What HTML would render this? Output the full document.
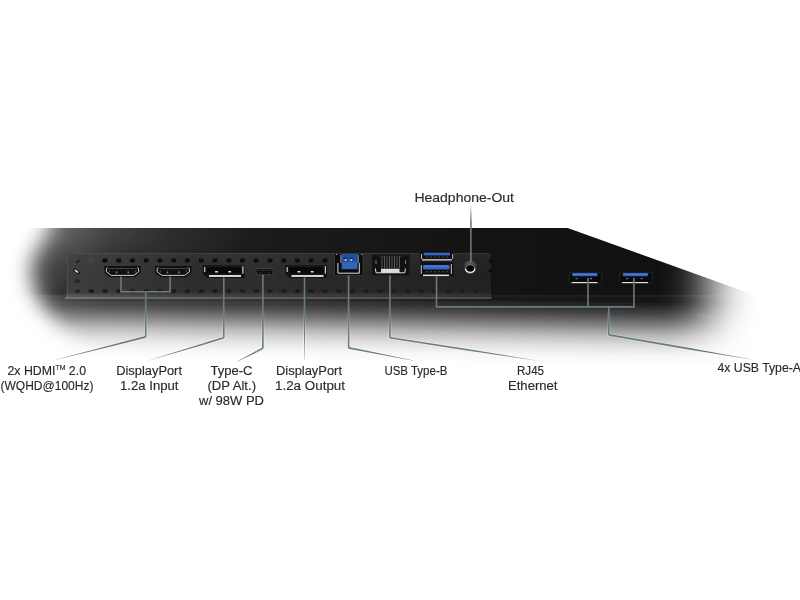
<!DOCTYPE html>
<html><head><meta charset="utf-8">
<style>
html,body{margin:0;padding:0;background:#fff;width:800px;height:600px;overflow:hidden}
svg{display:block}
text{font-family:"Liberation Sans",sans-serif;font-size:12.5px;fill:#2a2a2a;stroke:#2a2a2a;stroke-width:0.15px}
</style></head><body>
<svg width="800" height="600" viewBox="0 0 800 600">
<defs>
  <filter id="fb" x="-100" y="0" width="1000" height="600" filterUnits="userSpaceOnUse">
    <feGaussianBlur stdDeviation="10 10"/>
  </filter>
  <filter id="b05" x="-50%" y="-50%" width="200%" height="200%"><feGaussianBlur stdDeviation="0.6"/></filter>
  <clipPath id="bodyClip"><polygon points="-100,227.8 567,227.8 900,347.2 900,600 -100,600"/></clipPath>
  <radialGradient id="lightG" cx="0" cy="0" r="1" gradientUnits="userSpaceOnUse" gradientTransform="translate(30,228) scale(230,62)">
    <stop offset="0" stop-color="#fff" stop-opacity="0.3"/>
    <stop offset="0.3" stop-color="#fff" stop-opacity="0.17"/>
    <stop offset="0.6" stop-color="#fff" stop-opacity="0.07"/>
    <stop offset="1" stop-color="#fff" stop-opacity="0"/>
  </radialGradient>
  <filter id="fb2" x="-100" y="0" width="1000" height="600" filterUnits="userSpaceOnUse">
    <feGaussianBlur stdDeviation="23 23"/>
  </filter>
  <linearGradient id="botG" x1="250" y1="296" x2="249.09" y2="360" gradientUnits="userSpaceOnUse">
    <stop offset="0" stop-color="#fff"/>
    <stop offset="0.0625" stop-color="#ebebeb"/>
    <stop offset="0.219" stop-color="#c0c0c0"/>
    <stop offset="0.375" stop-color="#878787"/>
    <stop offset="0.531" stop-color="#4d4d4d"/>
    <stop offset="0.6875" stop-color="#242424"/>
    <stop offset="0.84" stop-color="#0b0b0b"/>
    <stop offset="1" stop-color="#000"/>
  </linearGradient>
  <mask id="mBR" maskUnits="userSpaceOnUse" x="-100" y="0" width="1000" height="600">
    <rect x="-100" y="0" width="1000" height="600" fill="url(#botG)"/>
  </mask>
  <mask id="mL" maskUnits="userSpaceOnUse" x="-100" y="0" width="1000" height="600">
    <path d="M50,100 L49,232 Q33,248 30,272 Q34,300 60,330 L120,400 H900 V100 Z" fill="#fff" filter="url(#fb)"/>
  </mask>
  <mask id="mR" maskUnits="userSpaceOnUse" x="-100" y="0" width="1000" height="600">
    <polygon points="-100,100 710,100 710,290 695,420 -100,420" fill="#fff" filter="url(#fb2)"/>
  </mask>
  <linearGradient id="bodyG" x1="150" y1="0" x2="700" y2="0" gradientUnits="userSpaceOnUse">
    <stop offset="0" stop-color="#202020"/>
    <stop offset="0.55" stop-color="#141414"/>
    <stop offset="1" stop-color="#101010"/>
  </linearGradient>
  <linearGradient id="panelG" x1="0" y1="253" x2="0" y2="298" gradientUnits="userSpaceOnUse">
    <stop offset="0" stop-color="#303030"/>
    <stop offset="0.5" stop-color="#2a2a2a"/>
    <stop offset="0.85" stop-color="#2c2c2c"/>
    <stop offset="1" stop-color="#3a3a3a"/>
  </linearGradient>
  <radialGradient id="jackG" cx="0.5" cy="0.5" r="0.5">
    <stop offset="0.5" stop-color="#0a0a0a"/>
    <stop offset="0.62" stop-color="#262626"/>
    <stop offset="0.8" stop-color="#555"/>
    <stop offset="0.93" stop-color="#383838"/>
    <stop offset="1" stop-color="#2a2a2a"/>
  </radialGradient>
  <linearGradient id="panelShade" x1="67" y1="0" x2="491" y2="0" gradientUnits="userSpaceOnUse">
    <stop offset="0" stop-color="#fff" stop-opacity="0.09"/>
    <stop offset="0.3" stop-color="#fff" stop-opacity="0.01"/>
    <stop offset="0.6" stop-color="#000" stop-opacity="0.05"/>
    <stop offset="1" stop-color="#000" stop-opacity="0.22"/>
  </linearGradient>
  <linearGradient id="haloG" x1="0" y1="305" x2="0" y2="340" gradientUnits="userSpaceOnUse">
    <stop offset="0" stop-color="#fff" stop-opacity="0"/>
    <stop offset="1" stop-color="#fff" stop-opacity="0.4"/>
  </linearGradient>
  <linearGradient id="lightV" x1="0" y1="285" x2="0" y2="325" gradientUnits="userSpaceOnUse">
    <stop offset="0" stop-color="#fff"/>
    <stop offset="1" stop-color="#000"/>
  </linearGradient>
  <mask id="mLight" maskUnits="userSpaceOnUse" x="-100" y="0" width="1000" height="600">
    <rect x="-100" y="0" width="1000" height="600" fill="url(#lightV)"/>
  </mask>
  <radialGradient id="jackTop" cx="0.5" cy="0.25" r="0.75">
    <stop offset="0" stop-color="#606060"/>
    <stop offset="0.55" stop-color="#3a3a3a"/>
    <stop offset="1" stop-color="#1c1c1c"/>
  </radialGradient>
  <linearGradient id="lightL" x1="30" y1="0" x2="115" y2="0" gradientUnits="userSpaceOnUse">
    <stop offset="0" stop-color="#fff" stop-opacity="0.2"/>
    <stop offset="0.45" stop-color="#fff" stop-opacity="0.08"/>
    <stop offset="1" stop-color="#fff" stop-opacity="0"/>
  </linearGradient>
</defs>

<!-- monitor body -->
<g mask="url(#mR)"><g mask="url(#mL)"><g mask="url(#mBR)"><g clip-path="url(#bodyClip)">
  <rect x="-100" y="228" width="1000" height="372" fill="url(#bodyG)"/>
  <rect x="-100" y="228" width="1000" height="372" fill="url(#lightG)" mask="url(#mLight)"/>
  <rect x="-100" y="228" width="1000" height="372" fill="url(#lightL)" mask="url(#mLight)"/>
  <!-- bezel bottom edge line -->
  <rect x="0" y="295.3" width="800" height="1.2" fill="#fff" fill-opacity="0.09"/>
  <rect x="0" y="296.2" width="800" height="8" fill="#fff" fill-opacity="0.025"/>
  <rect x="672" y="313.5" width="18" height="4.5" fill="#fff" fill-opacity="0.025"/>
  <rect x="697" y="313.5" width="19" height="5" fill="#fff" fill-opacity="0.05"/>
  <!-- port panel -->
  <path d="M71,253 H488 Q491,253 491,256 V299 H65 L66,295 L67,257 Q67,253 71,253 Z" fill="url(#panelG)"/>
  <path d="M71,253 H488 Q491,253 491,256 V299 H65 L66,295 L67,257 Q67,253 71,253 Z" fill="url(#panelShade)"/>
  <path d="M67.5,298 V257 Q67.5,253.5 71,253.5 H488" fill="none" stroke="#fff" stroke-opacity="0.07" stroke-width="1"/>
  <rect x="66" y="293.5" width="425" height="3.8" fill="#fff" fill-opacity="0.04"/>
  <rect x="65" y="297.3" width="427" height="1.6" fill="#fff" fill-opacity="0.17"/>
  <circle cx="490.8" cy="260.6" r="2.1" fill="#0e0e0e"/>
  <circle cx="490.5" cy="270.8" r="2.1" fill="#0e0e0e"/>
  <!-- dots -->
  <g fill="#1e1e1e" filter="url(#b05)">
    <ellipse cx="105" cy="260.5" rx="2.6" ry="2.3" fill="#111"/><ellipse cx="118.75" cy="260.5" rx="2.6" ry="2.3" fill="#111"/><ellipse cx="132.5" cy="260.5" rx="2.6" ry="2.3" fill="#111"/>
    <ellipse cx="146.25" cy="260.5" rx="2.6" ry="2.3" fill="#111"/><ellipse cx="160" cy="260.5" rx="2.6" ry="2.3" fill="#111"/><ellipse cx="173.75" cy="260.5" rx="2.6" ry="2.3" fill="#111"/>
    <ellipse cx="187.5" cy="260.5" rx="2.6" ry="2.3" fill="#111"/><ellipse cx="201.25" cy="260.5" rx="2.6" ry="2.3" fill="#111"/><ellipse cx="215" cy="260.5" rx="2.6" ry="2.3" fill="#111"/>
    <ellipse cx="228.75" cy="260.5" rx="2.6" ry="2.3" fill="#111"/><ellipse cx="242.5" cy="260.5" rx="2.6" ry="2.3" fill="#111"/><ellipse cx="256.25" cy="260.5" rx="2.6" ry="2.3" fill="#111"/>
    <ellipse cx="270" cy="260.5" rx="2.6" ry="2.3" fill="#111"/><ellipse cx="283.75" cy="260.5" rx="2.6" ry="2.3" fill="#111"/><ellipse cx="297.5" cy="260.5" rx="2.6" ry="2.3" fill="#111"/>
    <ellipse cx="311.25" cy="260.5" rx="2.6" ry="2.3" fill="#111"/><ellipse cx="325" cy="260.5" rx="2.6" ry="2.3" fill="#111"/>
    <ellipse cx="77.5" cy="281" rx="2.8" ry="2.1" fill="#282828"/>
    <ellipse cx="77.5" cy="291" rx="2.8" ry="2.1" fill="#262626"/><ellipse cx="91.25" cy="291" rx="2.8" ry="2.1"/><ellipse cx="105" cy="291" rx="2.8" ry="2.1"/>
    <ellipse cx="118.75" cy="291" rx="2.8" ry="2.1"/><ellipse cx="132.5" cy="291" rx="2.8" ry="2.1"/><ellipse cx="146.25" cy="291" rx="2.8" ry="2.1"/>
    <ellipse cx="160" cy="291" rx="2.8" ry="2.1"/><ellipse cx="173.75" cy="291" rx="2.8" ry="2.1"/><ellipse cx="187.5" cy="291" rx="2.8" ry="2.1"/>
    <ellipse cx="201.25" cy="291" rx="2.8" ry="2.1"/><ellipse cx="215" cy="291" rx="2.8" ry="2.1"/><ellipse cx="228.75" cy="291" rx="2.8" ry="2.1"/>
    <ellipse cx="242.5" cy="291" rx="2.8" ry="2.1"/><ellipse cx="256.25" cy="291" rx="2.8" ry="2.1"/><ellipse cx="270" cy="291" rx="2.8" ry="2.1"/>
    <ellipse cx="283.75" cy="291" rx="2.8" ry="2.1"/><ellipse cx="297.5" cy="291" rx="2.8" ry="2.1"/><ellipse cx="311.25" cy="291" rx="2.8" ry="2.1"/>
    <ellipse cx="325" cy="291" rx="2.8" ry="2.1"/><ellipse cx="338.75" cy="291" rx="2.8" ry="2.1"/><ellipse cx="352.5" cy="291" rx="2.8" ry="2.1"/>
    <ellipse cx="366.25" cy="291" rx="2.8" ry="2.1"/><ellipse cx="380" cy="291" rx="2.8" ry="2.1"/><ellipse cx="393.75" cy="291" rx="2.8" ry="2.1"/>
    <ellipse cx="407.5" cy="291" rx="2.8" ry="2.1"/><ellipse cx="421.25" cy="291" rx="2.8" ry="2.1"/><ellipse cx="435" cy="291" rx="2.8" ry="2.1"/>
    <ellipse cx="448.75" cy="291" rx="2.8" ry="2.1"/><ellipse cx="462.5" cy="291" rx="2.8" ry="2.1"/><ellipse cx="476.25" cy="291" rx="2.8" ry="2.1"/>
  </g>
</g></g></g></g>

<!-- PORTS -->
<g id="ports">
  <!-- panel marks -->
  <path d="M76.5,262.5 L79.5,260.5" stroke="#151515" stroke-width="1.4" stroke-linecap="round"/>
  <circle cx="91" cy="260.6" r="2.4" fill="#444" filter="url(#b05)"/>
  <path d="M74.8,270 L78.2,272.6" stroke="#111" stroke-width="3.2" stroke-linecap="round"/>
  <path d="M75.3,270.3 L77.6,272.1" stroke="#e6e6e6" stroke-width="1.5" stroke-linecap="round"/>
  <!-- HDMI 1 -->
  <g>
    <path d="M104.3,266 H140.7 V272.6 L135.4,277.2 H109.6 L104.3,272.6 Z" fill="#111"/>
    <path d="M108.5,268.6 H136.5" stroke="#555" stroke-width="0.8"/>
    <rect x="115.8" y="271.4" width="1.6" height="2" fill="#777"/>
    <rect x="127.4" y="271.4" width="1.6" height="2" fill="#777"/>
    <path d="M107.6,267.4 L106.4,268.8 V271.8 L111.2,275.4 H133.8 L138.6,271.8 V268.8 L137.4,267.4" fill="none" stroke="#e2e2e2" stroke-width="0.9"/>
    <path d="M108.8,270 L110.2,272.4 M136.2,270 L134.8,272.4" stroke="#666" stroke-width="0.7"/>
  </g>
  <g transform="translate(50.8,0)">
    <path d="M104.3,266 H140.7 V272.6 L135.4,277.2 H109.6 L104.3,272.6 Z" fill="#111"/>
    <path d="M108.5,268.6 H136.5" stroke="#555" stroke-width="0.8"/>
    <rect x="115.8" y="271.4" width="1.6" height="2" fill="#777"/>
    <rect x="127.4" y="271.4" width="1.6" height="2" fill="#777"/>
    <path d="M107.6,267.4 L106.4,268.8 V271.8 L111.2,275.4 H133.8 L138.6,271.8 V268.8 L137.4,267.4" fill="none" stroke="#e2e2e2" stroke-width="0.9"/>
    <path d="M108.8,270 L110.2,272.4 M136.2,270 L134.8,272.4" stroke="#666" stroke-width="0.7"/>
  </g>
  <!-- DP 1 -->
  <g>
    <path d="M202.7,265.3 H244.5 V278 H207.2 L202.7,273.8 Z" fill="#111"/>
    <path d="M206,266.6 H241.6 V274 H206 Z" fill="#080808" stroke="#2a2a2a" stroke-width="0.5"/>
    <rect x="209" y="275" width="32" height="2" fill="#d4d4d4"/>
    <rect x="204.1" y="267" width="1.2" height="5" fill="#c8c8c8"/>
    <rect x="242.3" y="266.2" width="1.2" height="7.4" fill="#d0d0d0"/>
    <rect x="215" y="271" width="3" height="1.6" rx="0.5" fill="#e0e0e0"/>
    <rect x="228.2" y="271" width="3" height="1.6" rx="0.5" fill="#e0e0e0"/>
  </g>
  <g transform="translate(82.5,0)">
    <path d="M202.7,265.3 H244.5 V278 H207.2 L202.7,273.8 Z" fill="#111"/>
    <path d="M206,266.6 H241.6 V274 H206 Z" fill="#080808" stroke="#2a2a2a" stroke-width="0.5"/>
    <rect x="209" y="275" width="32" height="2" fill="#d4d4d4"/>
    <rect x="204.1" y="267" width="1.2" height="5" fill="#c8c8c8"/>
    <rect x="242.3" y="266.2" width="1.2" height="7.4" fill="#d0d0d0"/>
    <rect x="215" y="271" width="3" height="1.6" rx="0.5" fill="#e0e0e0"/>
    <rect x="228.2" y="271" width="3" height="1.6" rx="0.5" fill="#e0e0e0"/>
  </g>
  <!-- Type-C -->
  <rect x="253.4" y="268.5" width="22.6" height="6.3" rx="3.1" fill="#101010" stroke="#4a4a4a" stroke-width="0.8"/>
  <path d="M256.4,269.6 Q254.8,271.6 256.4,273.7 M273,269.6 Q274.6,271.6 273,273.7" fill="none" stroke="#8a8a8a" stroke-width="0.7"/>
  <path d="M258,270.3 H271" stroke="#3a3a3a" stroke-width="0.6"/>
  <path d="M259.5,272.6 H260.8 M268.6,272.6 H269.9" stroke="#555" stroke-width="0.7"/>
  <!-- USB-B -->
  <rect x="334.6" y="253.8" width="28.4" height="21.8" fill="#0c0c0c" stroke="#3a3a3a" stroke-width="0.8"/>
  <rect x="341.6" y="254" width="15.9" height="15.2" fill="#3266b8"/>
  <rect x="341.6" y="254" width="15.9" height="8.2" fill="#1f50a2"/>
  <rect x="344.2" y="257.6" width="2.6" height="1.6" fill="#0d2250"/>
  <rect x="349.9" y="257.6" width="2.6" height="1.6" fill="#0d2250"/>
  <rect x="344.7" y="259.2" width="1.8" height="1.5" fill="#e8e8e8"/>
  <rect x="350.4" y="259.2" width="1.8" height="1.5" fill="#e8e8e8"/>
  <path d="M337.9,263 V273.2 H359.3 V263" fill="none" stroke="#e0e0e0" stroke-width="1"/>
  <path d="M340.9,255 V263 M358.2,255 V263" stroke="#bbb" stroke-width="0.8"/>
  <path d="M336,254.6 H337 M361.6,254.6 H362.6" stroke="#ccc" stroke-width="0.9"/>
  <!-- RJ45 -->
  <rect x="372" y="254.3" width="37.7" height="21.2" fill="#111" stroke="#262626" stroke-width="0.5"/>
  <path d="M379,256.2 H403" stroke="#3a3a3a" stroke-width="0.8"/>
  <g stroke="#7a7a7a" stroke-width="0.7">
    <path d="M382,256.5 V268.5 M384.5,256.5 V268.5 M387,256.5 V268.5 M389.5,256.5 V268.5 M392,256.5 V268.5 M394.5,256.5 V268.5 M397,256.5 V268.5 M399.5,256.5 V268.5"/>
  </g>
  <path d="M376,260 V264 M405.5,260 V264" stroke="#999" stroke-width="0.8"/>
  <path d="M375.4,268.5 L376,272.8 H404.8 L405.4,268.5" fill="none" stroke="#dcdcdc" stroke-width="1"/>
  <rect x="381" y="268.8" width="18.5" height="4" fill="#e4e4e4"/>
  <path d="M381,270.8 H399.5" stroke="#999" stroke-width="0.5" stroke-dasharray="1.2 1"/>
  <!-- USB-A stacked -->
  <rect x="420.2" y="251.6" width="33.4" height="9.6" fill="#111"/>
  <rect x="423.7" y="252.7" width="26.3" height="2.7" fill="#3568c0"/>
  <rect x="422" y="259.2" width="30" height="1.3" fill="#dedede"/>
  <rect x="421" y="254" width="1" height="5" fill="#c0c0c0"/><rect x="452.2" y="254" width="1" height="5" fill="#c0c0c0"/>
  <path d="M426,257 H448" stroke="#555" stroke-width="0.8" stroke-dasharray="2 2"/>
  <rect x="420.2" y="262.2" width="33.2" height="14.4" fill="#111"/>
  <rect x="423" y="265" width="26.6" height="4.4" rx="1.4" fill="#3568c0"/>
  <rect x="424" y="265.6" width="24" height="1.2" fill="#4a7fd6"/>
  <rect x="423" y="274.6" width="26" height="1.5" fill="#e4e4e4"/>
  <rect x="420.8" y="265" width="1" height="9" fill="#c8c8c8"/><rect x="450.8" y="264" width="1" height="10" fill="#c8c8c8"/>
  <path d="M426,271.8 H448" stroke="#555" stroke-width="0.8" stroke-dasharray="2 2"/>
  <!-- jack -->
  <circle cx="470.2" cy="267.6" r="7.8" fill="#1a1a1a"/>
  <circle cx="470.2" cy="267.6" r="7.3" fill="url(#jackTop)" filter="url(#b05)"/>
  <circle cx="470.2" cy="269.1" r="3.9" fill="#030303"/>
  <circle cx="470.2" cy="269.1" r="4.6" fill="none" stroke="#777" stroke-width="0.7"/>
  <path d="M465.5,268.6 A4.8,4.8 0 0 0 474.9,268.6" fill="none" stroke="#f0f0f0" stroke-width="1.3"/>
  <!-- right USB-A -->
  <g>
    <rect x="569.3" y="272.3" width="32.4" height="11.2" rx="1.5" fill="#0a0a0a" stroke="#303030" stroke-width="0.7"/>
    <rect x="572" y="273" width="25.6" height="3.3" rx="1.4" fill="#2c63c4"/>
    <rect x="573" y="273.9" width="23.5" height="0.9" fill="#5088dc"/>
    <rect x="575.6" y="278" width="2" height="1.2" fill="#777"/>
    <rect x="590" y="278" width="2" height="1.2" fill="#777"/>
    <rect x="571.5" y="282" width="26" height="1.1" fill="#e0e0e0"/>
  </g>
  <g transform="translate(50.6,0)">
    <rect x="569.3" y="272.3" width="32.4" height="11.2" rx="1.5" fill="#0a0a0a" stroke="#303030" stroke-width="0.7"/>
    <rect x="572" y="273" width="25.6" height="3.3" rx="1.4" fill="#2c63c4"/>
    <rect x="573" y="273.9" width="23.5" height="0.9" fill="#5088dc"/>
    <rect x="575.6" y="278" width="2" height="1.2" fill="#777"/>
    <rect x="590" y="278" width="2" height="1.2" fill="#777"/>
    <rect x="571.5" y="282" width="26" height="1.1" fill="#e0e0e0"/>
  </g>
</g>

<!-- CALLOUT LINES -->
<g fill="none" stroke="url(#haloG)" stroke-width="3" stroke-linejoin="miter">
  <path d="M145.7,300 V336.9 L50,361.3 M223.8,300 V337.8 L146,361.2 M262.9,300 V348.3 L237,361.6 M304.5,300 V361.3 M348.6,300 V347.9 L413.5,360.6 M389.9,300 V337.75 L539.5,361 M608.75,310 V334.9 L756,360.3"/>
</g>
<g fill="none" stroke="#687b81" stroke-width="1.6" stroke-linejoin="miter">
  <path d="M121,276.5 V291.7 H170.1 V276.5 M145.7,291.7 V336.9"/>
  <path d="M223.8,277.5 V337.8"/>
  <path d="M262.9,274.8 V348.3"/>
  <path d="M304.5,277.5 V300.5"/>
  <path d="M348.6,275.5 V347.9"/>
  <path d="M389.9,275.5 V337.75"/>
  <path d="M436.5,276.2 V306.9 H633.9 V278 M588,278 V306.9 M608.75,306.9 V334.9"/>
  <path d="M470.9,222 V262"/>
</g>
<g fill="#687b81" stroke="none">
  <polygon points="470.8,206 471,206 471.7,222.5 470.1,222.5"/>
  <polygon points="145.50,336.12 117.63,343.23 118.03,344.78 145.90,337.68"/>
  <polygon points="117.63,343.23 49.98,361.23 50.02,361.37 118.03,344.78"/>
  <polygon points="223.57,337.03 204.12,342.88 204.58,344.42 224.03,338.57"/>
  <polygon points="204.12,342.88 145.98,361.13 146.02,361.27 204.58,344.42"/>
  <polygon points="262.53,347.59 256.06,350.91 256.79,352.34 263.27,349.01"/>
  <polygon points="256.06,350.91 236.97,361.53 237.03,361.67 256.79,352.34"/>
  <polygon points="303.70,300.00 303.70,315.32 305.30,315.32 305.30,300.00"/>
  <polygon points="303.70,315.32 304.43,361.30 304.57,361.30 305.30,315.32"/>
  <polygon points="348.45,348.69 364.67,351.86 364.98,350.29 348.75,347.11"/>
  <polygon points="364.67,351.86 413.49,360.67 413.51,360.53 364.98,350.29"/>
  <polygon points="389.78,338.54 470.21,351.04 470.45,349.46 390.02,336.96"/>
  <polygon points="470.21,351.04 539.49,361.07 539.51,360.93 470.45,349.46"/>
  <polygon points="608.61,335.69 686.88,349.19 687.15,347.61 608.89,334.11"/>
  <polygon points="686.88,349.19 755.99,360.37 756.01,360.23 687.15,347.61"/>
</g>

<!-- LABELS -->
<g style="will-change:transform">
  <text x="414.4" y="202.4" textLength="99.6" lengthAdjust="spacingAndGlyphs">Headphone-Out</text>
  <text x="7.5" y="374.7" textLength="78.5" lengthAdjust="spacingAndGlyphs">2x HDMI<tspan font-size="7" dy="-4.5">TM</tspan><tspan dy="4.5"> 2.0</tspan></text>
  <text x="0.5" y="389.8" textLength="93" lengthAdjust="spacingAndGlyphs">(WQHD@100Hz)</text>
  <text x="116.2" y="374.7" textLength="65.8" lengthAdjust="spacingAndGlyphs">DisplayPort</text>
  <text x="120" y="389.8" textLength="58.5" lengthAdjust="spacingAndGlyphs">1.2a Input</text>
  <text x="210.5" y="374.7" textLength="42" lengthAdjust="spacingAndGlyphs">Type-C</text>
  <text x="207.5" y="389.8" textLength="48.5" lengthAdjust="spacingAndGlyphs">(DP Alt.)</text>
  <text x="199" y="404.9" textLength="65" lengthAdjust="spacingAndGlyphs">w/ 98W PD</text>
  <text x="276" y="374.7" textLength="66" lengthAdjust="spacingAndGlyphs">DisplayPort</text>
  <text x="275" y="389.8" textLength="70" lengthAdjust="spacingAndGlyphs">1.2a Output</text>
  <text x="384.4" y="375.4" textLength="63" lengthAdjust="spacingAndGlyphs">USB Type-B</text>
  <text x="517" y="374.7" textLength="27" lengthAdjust="spacingAndGlyphs">RJ45</text>
  <text x="508" y="389.8" textLength="49.5" lengthAdjust="spacingAndGlyphs">Ethernet</text>
  <text x="717.5" y="372" textLength="83.5" lengthAdjust="spacingAndGlyphs">4x USB Type-A</text>
</g>
</svg>
</body></html>
